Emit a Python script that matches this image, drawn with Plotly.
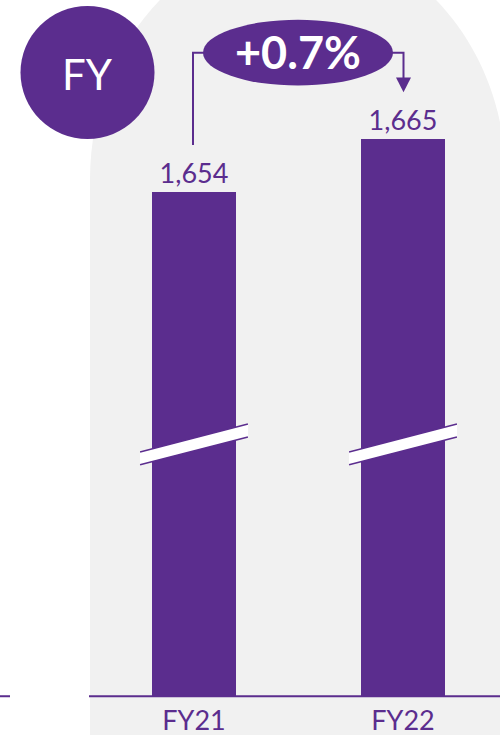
import plotly.graph_objects as go

# ---- data ----
categories = ["FY21", "FY22"]
values = [1654, 1665]
period_label = "FY"

# ---- style ----
PURPLE = "#5B2D8E"
GREY = "#F1F1F1"
FONT = "Lato"
W, H = 500, 736
PLOT_BOTTOM = 701          # pixel row of the baseline (bottom of the bar area)
Y_RANGE = [1549.6, 1693.7]  # truncated value axis (broken bars)
X_RANGE = [-0.928, 1.464]

change = (values[1] - values[0]) / values[0] * 100
change_label = f"{change:+.1f}%"


def px(x):
    """pixel column -> paper x"""
    return x / W


def py(y):
    """pixel row -> paper y"""
    return (H - y) / H


fig = go.Figure()

fig.add_trace(go.Bar(
    x=categories,
    y=values,
    width=0.402,
    marker=dict(color=PURPLE, line=dict(width=0)),
    texttemplate="%{y:,}",
    textposition="outside",
    textfont=dict(family=FONT, size=27, color=PURPLE),
    cliponaxis=False,
    hoverinfo="skip",
))

shapes = []

# grey arched panel behind the bars
k = 0.5523
cx, cy, a, b = 298, 181, 208, 242
left, right, bottom = cx - a, cx + a, 740
top = cy - b


def P(x, y):
    return f"{px(x):.5f},{py(y):.5f}"


arch = (
    f"M {P(left, bottom)} L {P(left, cy)} "
    f"C {P(left, cy - k * b)} {P(cx - k * a, top)} {P(cx, top)} "
    f"C {P(cx + k * a, top)} {P(right, cy - k * b)} {P(right, cy)} "
    f"L {P(right, bottom)} Z"
)
shapes.append(dict(type="path", xref="paper", yref="paper", path=arch,
                   fillcolor=GREY, line=dict(width=0), layer="below"))

# baseline segments
for x0, x1 in [(0, 10), (89, 500)]:
    shapes.append(dict(type="line", xref="paper", yref="paper",
                       x0=px(x0), x1=px(x1), y0=py(PLOT_BOTTOM), y1=py(PLOT_BOTTOM),
                       line=dict(color=PURPLE, width=2), layer="above"))

# axis-break slashes across each bar
half = 0.258  # half length in category units
for i in range(len(categories)):
    xl, xr = i - half, i + half
    band = (f"M {xl},{py(455):.5f} L {xr},{py(427):.5f} "
            f"L {xr},{py(440):.5f} L {xl},{py(468):.5f} Z")
    shapes.append(dict(type="path", xref="x", yref="paper", path=band,
                       fillcolor="white", line=dict(width=0), layer="above"))
    for y_l, y_r in [(455, 427), (468, 440)]:
        shapes.append(dict(type="line", xref="x", yref="paper",
                           x0=xl, x1=xr, y0=py(y_l), y1=py(y_r),
                           line=dict(color=PURPLE, width=1.5), layer="above"))

# "FY" badge
shapes.append(dict(type="circle", xref="paper", yref="paper",
                   x0=px(20.5), x1=px(154.5), y0=py(140), y1=py(6),
                   fillcolor=PURPLE, line=dict(width=0), layer="above"))

# change pill
shapes.append(dict(type="circle", xref="paper", yref="paper",
                   x0=px(203), x1=px(393), y0=py(86), y1=py(20),
                   fillcolor=PURPLE, line=dict(width=0), layer="above"))

# connector from FY21 label up to the pill, and from the pill down to FY22
conn = dict(color=PURPLE, width=2)
shapes.append(dict(type="path", xref="paper", yref="paper",
                   path=f"M {P(193, 146)} L {P(193, 53)} L {P(204, 53)}",
                   line=conn, layer="above"))
shapes.append(dict(type="path", xref="paper", yref="paper",
                   path=f"M {P(392, 53)} L {P(403.5, 53)} L {P(403.5, 80)}",
                   line=conn, layer="above"))
shapes.append(dict(type="path", xref="paper", yref="paper",
                   path=f"M {P(396, 78)} L {P(411, 78)} L {P(403.5, 93)} Z",
                   fillcolor=PURPLE, line=dict(width=0), layer="above"))

annotations = [
    dict(text=period_label, xref="paper", yref="paper", x=px(87.5), y=py(75),
         showarrow=False, xanchor="center", yanchor="middle",
         font=dict(family=FONT, size=42, color="white")),
    dict(text=f"<b>{change_label}</b>", xref="paper", yref="paper",
         x=px(298), y=py(52), showarrow=False, xanchor="center", yanchor="middle",
         font=dict(family=FONT, size=45, color="white")),
]

fig.update_layout(
    width=W, height=H,
    margin=dict(l=0, r=0, t=0, b=0, pad=0),
    paper_bgcolor="white",
    plot_bgcolor="rgba(0,0,0,0)",
    showlegend=False,
    shapes=shapes,
    annotations=annotations,
    bargap=0,
    xaxis=dict(range=X_RANGE, showgrid=False, zeroline=False, showline=False,
               ticks="", ticklabelstandoff=6,
               tickfont=dict(family=FONT, size=27, color=PURPLE),
               fixedrange=True),
    yaxis=dict(range=Y_RANGE, domain=[(H - PLOT_BOTTOM) / H, 1], visible=False,
               fixedrange=True),
)

fig.write_html("out.html", config={"displayModeBar": False})
